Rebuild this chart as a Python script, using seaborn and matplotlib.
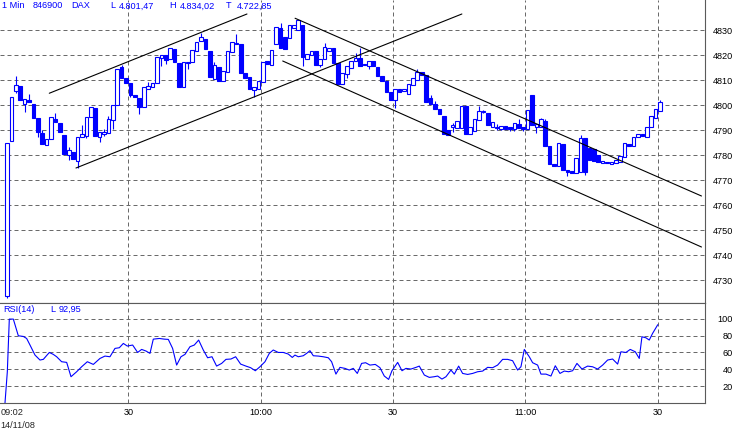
import matplotlib
matplotlib.use("Agg")  # no display
import matplotlib.pyplot as plt
import seaborn as sns
import numpy as np
import pandas as pd

sns.set_theme(style="white")
plt.rcParams["font.family"] = ["Liberation Sans", "DejaVu Sans"]

BLUE = "#0000ff"
GRID = "#6a6a6a"
FRAME = "#5a5a5a"

# one-minute DAX candles, 09:02 .. 11:30 (minutes after 09:00)
minutes = np.arange(2, 151)
opens = [
    4723.7, 4785.8, 4805.6, 4807.7, 4800.4, 4802.0, 4800.5, 4795.0, 4788.8, 4784.0,
    4786.5, 4794.6, 4793.0, 4788.1, 4780.0, 4781.4, 4777.8, 4787.3, 4787.6, 4795.4,
    4798.8, 4787.3, 4788.6, 4788.8, 4794.1, 4800.0, 4815.2, 4811.0, 4809.0, 4804.1,
    4802.8, 4799.4, 4806.5, 4807.2, 4809.0, 4818.8, 4820.1, 4818.5, 4822.5, 4816.8,
    4807.2, 4817.0, 4817.2, 4821.7, 4825.8, 4826.5, 4821.7, 4810.5, 4815.2, 4809.7,
    4813.4, 4821.4, 4824.4, 4824.5, 4813.0, 4811.2, 4806.1, 4806.4, 4809.4, 4817.7,
    4816.1, 4824.4, 4830.8, 4827.2, 4826.8, 4830.8, 4830.1, 4832.1, 4818.4, 4820.1,
    4821.7, 4816.1, 4818.4, 4821.8, 4822.8, 4817.0, 4808.4, 4812.5, 4814.8, 4817.7,
    4818.8, 4816.5, 4815.7, 4817.7, 4815.2, 4811.7, 4809.8, 4805.4, 4802.1, 4806.5,
    4805.9, 4804.4, 4808.1, 4810.1, 4813.4, 4812.1, 4803.0, 4800.4, 4798.4, 4795.7,
    4790.1, 4791.2, 4790.8, 4790.8, 4799.7, 4788.4, 4789.8, 4794.1, 4797.2, 4797.0,
    4791.2, 4790.8, 4790.4, 4791.8, 4791.2, 4790.5, 4792.4, 4791.2, 4790.4, 4804.1,
    4791.2, 4791.4, 4793.8, 4783.8, 4776.5, 4775.8, 4784.5, 4774.1, 4773.7, 4772.8,
    4773.2, 4786.8, 4783.0, 4782.4, 4780.0, 4776.8, 4777.4, 4776.4, 4776.8, 4777.2,
    4779.4, 4784.4, 4783.7, 4787.4, 4788.4, 4787.4, 4791.2, 4794.8, 4797.8,
]
closes = [
    4784.8, 4803.2, 4808.0, 4802.0, 4802.4, 4801.2, 4795.0, 4789.4, 4784.4, 4786.5,
    4795.2, 4793.4, 4789.2, 4780.4, 4782.1, 4778.4, 4787.2, 4788.5, 4795.4, 4799.2,
    4787.7, 4789.2, 4789.4, 4794.4, 4800.0, 4814.5, 4810.8, 4808.8, 4804.1, 4803.4,
    4799.4, 4807.4, 4807.7, 4809.0, 4819.2, 4820.1, 4818.0, 4822.8, 4817.4, 4807.4,
    4817.2, 4817.4, 4822.1, 4825.4, 4827.2, 4822.4, 4811.2, 4816.1, 4809.8, 4813.8,
    4821.7, 4825.2, 4825.0, 4813.0, 4811.0, 4806.4, 4807.2, 4809.7, 4817.4, 4816.5,
    4822.1, 4831.4, 4823.0, 4822.4, 4832.1, 4832.1, 4834.0, 4819.2, 4820.4, 4821.8,
    4816.1, 4818.4, 4823.4, 4822.8, 4817.0, 4808.4, 4812.8, 4815.7, 4817.7, 4818.8,
    4815.8, 4816.1, 4817.8, 4815.7, 4811.7, 4809.8, 4805.4, 4802.1, 4806.5, 4805.4,
    4806.5, 4808.4, 4811.0, 4813.4, 4812.1, 4801.4, 4800.4, 4798.4, 4796.4, 4788.4,
    4788.1, 4792.1, 4793.8, 4799.7, 4788.4, 4791.2, 4794.5, 4797.8, 4797.7, 4792.0,
    4793.4, 4791.4, 4791.8, 4790.4, 4790.4, 4792.8, 4790.8, 4790.4, 4798.1, 4792.1,
    4792.4, 4794.4, 4783.8, 4776.5, 4775.8, 4784.8, 4774.1, 4773.2, 4772.8, 4779.0,
    4786.8, 4773.2, 4778.1, 4777.7, 4777.4, 4777.7, 4776.8, 4777.2, 4778.1, 4779.8,
    4784.8, 4783.7, 4787.2, 4788.4, 4787.7, 4791.2, 4795.7, 4798.5, 4801.5,
]
highs = [
    4784.8, 4803.2, 4811.7, 4807.7, 4802.4, 4804.5, 4800.5, 4795.0, 4790.0, 4786.5,
    4795.2, 4797.0, 4793.0, 4788.1, 4783.2, 4781.4, 4787.2, 4792.1, 4795.4, 4799.2,
    4798.8, 4789.2, 4790.5, 4795.7, 4800.0, 4814.5, 4816.1, 4811.0, 4809.0, 4804.1,
    4802.8, 4807.4, 4809.5, 4809.0, 4819.2, 4820.1, 4820.1, 4822.8, 4822.5, 4816.8,
    4817.2, 4817.4, 4822.1, 4825.4, 4828.8, 4826.5, 4821.7, 4817.2, 4815.2, 4813.8,
    4821.7, 4825.2, 4828.5, 4824.5, 4813.0, 4811.2, 4807.2, 4809.7, 4817.4, 4817.7,
    4822.1, 4831.4, 4832.8, 4827.2, 4832.1, 4832.1, 4834.0, 4832.1, 4820.4, 4821.8,
    4821.7, 4818.4, 4824.8, 4822.8, 4822.8, 4817.0, 4812.8, 4815.7, 4817.7, 4821.0,
    4822.8, 4816.5, 4817.8, 4817.7, 4815.2, 4811.7, 4809.8, 4805.4, 4806.5, 4806.5,
    4806.5, 4808.4, 4811.0, 4814.5, 4813.4, 4812.1, 4804.0, 4801.7, 4798.4, 4795.7,
    4790.1, 4793.0, 4793.8, 4799.7, 4799.7, 4791.2, 4794.5, 4799.7, 4798.1, 4797.0,
    4793.4, 4792.5, 4791.8, 4791.8, 4791.2, 4792.8, 4794.5, 4791.2, 4798.1, 4804.1,
    4792.4, 4794.8, 4794.4, 4783.8, 4776.5, 4784.8, 4784.5, 4774.1, 4773.7, 4779.0,
    4788.0, 4786.8, 4783.0, 4782.4, 4780.0, 4777.7, 4777.4, 4777.2, 4778.1, 4779.8,
    4784.8, 4784.4, 4787.2, 4788.4, 4788.4, 4791.2, 4795.7, 4798.5, 4802.1,
]
lows = [
    4722.85, 4785.8, 4804.8, 4802.0, 4797.4, 4801.2, 4795.0, 4787.4, 4784.4, 4784.0,
    4786.5, 4793.4, 4789.2, 4780.4, 4778.1, 4778.4, 4774.8, 4787.3, 4787.0, 4795.4,
    4787.7, 4785.2, 4787.8, 4788.8, 4790.4, 4800.0, 4810.8, 4808.8, 4803.2, 4803.4,
    4796.5, 4799.4, 4806.5, 4807.2, 4809.0, 4815.8, 4816.5, 4818.5, 4817.4, 4807.4,
    4807.2, 4814.4, 4817.2, 4821.7, 4825.8, 4822.4, 4811.2, 4810.5, 4809.8, 4809.7,
    4813.4, 4821.4, 4824.4, 4813.0, 4811.0, 4806.4, 4803.2, 4806.4, 4809.4, 4816.5,
    4816.1, 4824.4, 4823.0, 4822.4, 4826.8, 4830.8, 4830.1, 4815.8, 4818.4, 4820.1,
    4816.1, 4815.5, 4818.4, 4821.8, 4817.0, 4808.4, 4808.4, 4811.0, 4814.8, 4817.7,
    4815.8, 4816.1, 4814.5, 4815.7, 4811.7, 4809.8, 4805.4, 4802.1, 4798.8, 4805.4,
    4805.9, 4804.4, 4808.1, 4810.1, 4812.1, 4801.4, 4800.4, 4798.4, 4796.4, 4788.4,
    4788.1, 4789.5, 4790.8, 4790.8, 4788.4, 4788.4, 4789.8, 4794.1, 4797.0, 4792.0,
    4791.2, 4790.0, 4790.1, 4790.4, 4789.8, 4789.8, 4790.8, 4789.8, 4790.4, 4792.1,
    4789.0, 4791.4, 4783.8, 4776.5, 4775.8, 4775.8, 4774.1, 4771.7, 4772.8, 4772.8,
    4773.2, 4772.0, 4778.1, 4777.7, 4777.4, 4776.8, 4776.8, 4776.4, 4776.8, 4777.2,
    4779.4, 4783.7, 4783.7, 4787.4, 4787.7, 4787.4, 4791.2, 4794.8, 4797.8,
]

# RSI(14) line
rsi_minute = [
    2.06, 2.59, 3.04, 3.95, 5.08, 6.22, 6.97, 7.73, 8.86, 9.99,
    10.75, 12.11, 13.01, 13.77, 14.9, 16.04, 17.02, 18.3, 19.43, 20.72,
    22.08, 23.59, 24.72, 25.85, 26.99, 27.97, 28.88, 29.78, 30.99, 32.12,
    33.03, 34.01, 34.92, 35.67, 37.03, 38.17, 39.07, 40.05, 40.96, 41.94,
    42.85, 43.98, 44.96, 45.95, 47.0, 47.98, 48.97, 50.02, 51.16, 52.14,
    53.27, 54.33, 55.46, 56.67, 57.73, 58.79, 59.84, 60.98, 61.96, 62.86,
    64.0, 65.13, 66.26, 67.17, 67.77, 68.53, 69.66, 70.42, 71.17, 71.93,
    73.06, 74.19, 75.33, 76.08, 77.06, 77.97, 79.1, 80.08, 80.99, 81.9,
    82.88, 83.79, 84.77, 85.98, 87.04, 88.02, 89.0, 89.76, 91.05, 92.03,
    92.93, 94.07, 95.2, 95.95, 97.09, 98.22, 99.35, 100.11, 101.09, 102.0,
    103.13, 103.89, 104.87, 105.77, 106.91, 108.04, 109.17, 110.31, 111.44, 112.57,
    113.7, 114.84, 115.97, 117.1, 118.24, 118.99, 119.75, 120.88, 121.64, 122.77,
    123.52, 124.66, 125.79, 126.77, 127.83, 128.81, 129.79, 130.7, 131.68, 132.81,
    134.1, 135.23, 136.36, 137.5, 138.63, 139.76, 140.9, 141.65, 142.78, 143.76,
    144.9, 145.8, 146.41, 147.31, 148.07, 148.82, 149.58, 150.0,
]
rsi_value = [
    0.0, 37.1, 99.6, 99.6, 79.8, 79.0, 76.6, 68.8, 56.9, 51.0,
    51.8, 60.0, 57.7, 54.9, 49.0, 48.2, 31.2, 37.1, 43.0, 49.0,
    45.8, 52.9, 55.7, 54.9, 64.8, 65.6, 70.7, 67.6, 68.8, 60.0,
    63.6, 61.7, 58.9, 75.8, 76.6, 75.8, 75.5, 64.8, 45.0, 54.9,
    57.7, 66.8, 68.8, 74.7, 62.9, 53.7, 54.9, 43.8, 47.0, 51.8,
    52.2, 54.9, 46.2, 43.8, 41.9, 38.3, 43.0, 49.0, 58.9, 62.9,
    60.0, 60.0, 58.1, 54.1, 56.9, 54.9, 56.1, 58.9, 62.1, 56.1,
    55.7, 54.9, 53.7, 49.0, 34.3, 42.3, 41.1, 39.1, 41.1, 35.1,
    47.0, 47.8, 45.0, 45.8, 41.9, 32.0, 28.0, 38.3, 48.2, 38.3,
    41.1, 40.3, 42.3, 43.8, 33.2, 30.4, 31.2, 32.0, 28.4, 31.2,
    39.1, 34.3, 43.8, 35.1, 33.9, 35.1, 37.1, 37.9, 42.3, 41.9,
    45.0, 51.8, 51.8, 50.2, 39.1, 43.0, 63.6, 54.9, 47.8, 45.0,
    34.3, 34.3, 32.0, 44.2, 35.1, 37.9, 37.1, 38.3, 47.0, 40.3,
    43.8, 43.0, 40.3, 45.0, 51.0, 52.2, 46.2, 60.8, 60.0, 63.6,
    60.8, 52.9, 78.6, 77.4, 74.7, 82.6, 89.3, 92.95,
]

# hand-drawn trend channels: start/end minute and price
line_t0 = [12.1, 18.15, 67.8, 65.0]
line_p0 = [4804.8, 4774.9, 4834.8, 4817.7]
line_t1 = [56.9, 105.6, 159.9, 159.9]
line_p1 = [4836.5, 4836.5, 4763.7, 4743.3]

price_ticks = [4730, 4740, 4750, 4760, 4770, 4780, 4790, 4800, 4810, 4820, 4830]
rsi_ticks = [20, 40, 60, 80, 100]
time_ticks = [30, 60, 90, 120, 150]
time_labels = ["30", "10:00", "30", "11:00", "30"]

df = pd.DataFrame({"minute": minutes, "open": opens, "high": highs,
                   "low": lows, "close": closes})
df["x"] = df["minute"] + 0.5
df["up"] = df["close"] >= df["open"]
df["body"] = (df["close"] - df["open"]).abs().clip(lower=0.35)
df["bottom"] = (df["open"] + df["close"]) / 2 - df["body"] / 2

W, H = 736, 433
fig = plt.figure(figsize=(W / 100, H / 100), dpi=100)
fig.patch.set_facecolor("white")
ax = fig.add_axes([0, 130 / H, 705 / W, 303 / H])
ax2 = fig.add_axes([0, 30 / H, 705 / W, 100 / H])

grid_kw = dict(color=GRID, linestyle=(0, (4, 3)), linewidth=0.72)

# price panel
ax.vlines(df["x"], df["low"], df["high"], color=BLUE, linewidth=0.8, zorder=2)
ax.bar(df["x"], df["body"], bottom=df["bottom"], width=0.82,
       color=np.where(df["up"], "white", BLUE), edgecolor=BLUE,
       linewidth=0.8, zorder=3)
for t0, p0, t1, p1 in zip(line_t0, line_p0, line_t1, line_p1):
    ax.plot([t0, t1], [p0, p1], color="black", linewidth=0.8, zorder=4)

ax.set_xlim(0.93, 160.7)
ax.set_ylim(4720.9, 4842.1)
ax.set_xticks(time_ticks)
ax.set_xticklabels([])
ax.set_yticks(price_ticks)
ax.yaxis.tick_right()
ax.grid(True, **grid_kw)
ax.set_axisbelow(True)

# RSI panel
sns.lineplot(x=rsi_minute, y=rsi_value, ax=ax2, color=BLUE, linewidth=0.8)
ax2.set_xlim(0.93, 160.7)
ax2.set_ylim(0, 118.7)
ax2.set_xticks(time_ticks)
ax2.set_xticklabels(time_labels)
ax2.set_yticks(rsi_ticks)
ax2.yaxis.tick_right()
ax2.grid(True, **grid_kw)
ax2.set_axisbelow(True)

for a in (ax, ax2):
    a.set_facecolor("white")
    a.set_xlabel("")
    a.set_ylabel("")
    a.tick_params(axis="both", length=0, labelsize=6.6, colors="black")
    a.tick_params(axis="y", pad=20.2)
    for lab in a.get_yticklabels():
        lab.set_horizontalalignment("right")
    a.spines["left"].set_visible(False)
    for s in ("right", "bottom", "top"):
        a.spines[s].set_color(FRAME)
        a.spines[s].set_linewidth(0.8)
ax.spines["top"].set_visible(False)
ax2.tick_params(axis="x", pad=3.5)

# header texts
hdr = dict(color=BLUE, fontsize=6.6, va="center", ha="left")
for px, s in [(2, "1 Min"), (33, "846900"), (71, "DAX"), (110, "L"),
              (119, "4.801,47"), (169, "H"), (180, "4.834,02"), (226, "T"),
              (237, "4.722,85")]:
    fig.text(px / W, 1 - 6 / H, s, **hdr)
for px, s in [(3, "RSI(14)"), (50, "L"), (59, "92,95")]:
    fig.text(px / W, 1 - 309 / H, s, **hdr)

fig.text(0.5 / W, 1 - 412.5 / H, "09:02", fontsize=6.6, va="center", ha="left")
fig.text(0.5 / W, 1 - 425 / H, "14/11/08", fontsize=6.6, va="center", ha="left")

fig.savefig("out.png", dpi=100, facecolor="white")
